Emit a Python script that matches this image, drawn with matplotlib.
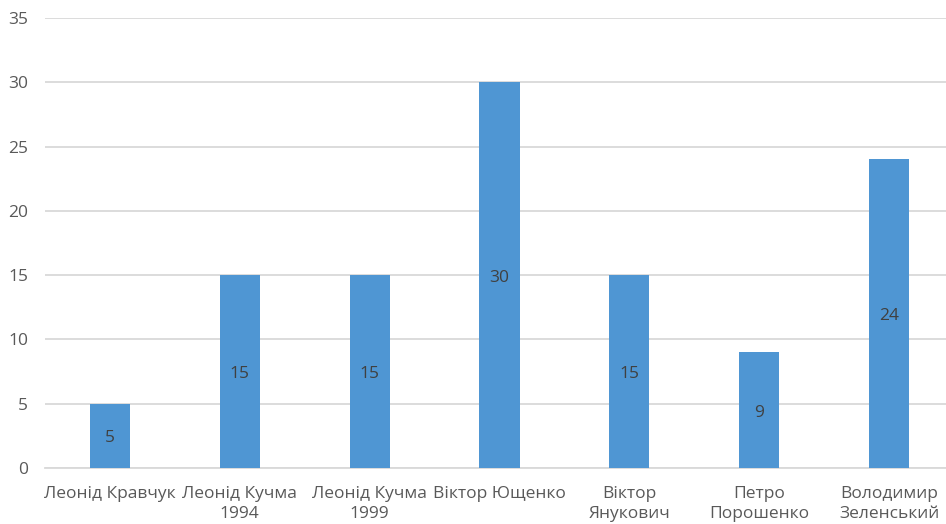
import matplotlib
matplotlib.use("Agg")
import matplotlib.pyplot as plt

categories = ["Леонід Кравчук", "Леонід Кучма\n1994", "Леонід Кучма\n1999",
              "Віктор Ющенко", "Віктор\nЯнукович", "Петро\nПорошенко",
              "Володимир\nЗеленський"]
values = [5, 15, 15, 30, 15, 9, 24]
y_ticks = [0, 5, 10, 15, 20, 25, 30, 35]

plt.rcParams["font.family"] = ["Open Sans", "DejaVu Sans"]

W, H = 946, 524
fig = plt.figure(figsize=(W / 100, H / 100), dpi=100)
ax = fig.add_axes([45 / W, 56 / H, 909 / W, 450 / H])

bar_color = "#4F96D3"
grid_color = "#D9D9D9"
text_color = "#595959"

x = list(range(len(categories)))
bars = ax.bar(x, values, width=0.31, color=bar_color, zorder=3)
for xi, v in zip(x, values):
    ax.text(xi, v / 2 - 0.2, str(v), ha="center", va="center",
            fontsize=12.5, color="#404040", zorder=4)

ax.set_xlim(-0.5, len(categories) - 0.5)
ax.set_ylim(0, 35)
ax.set_yticks(y_ticks)
ax.set_yticklabels([str(t) for t in y_ticks])
ax.set_xticks(x)
ax.set_xticklabels(categories, linespacing=1.35)

ax.yaxis.grid(True, color=grid_color, linewidth=1.3, zorder=0)
ax.set_axisbelow(True)
for side in ["top", "right", "left"]:
    ax.spines[side].set_visible(False)
ax.spines["bottom"].set_color(grid_color)
ax.spines["bottom"].set_linewidth(1.3)

ax.tick_params(axis="both", length=0, colors=text_color, labelsize=12.5)
ax.tick_params(axis="y", pad=12)
ax.tick_params(axis="x", pad=13)

fig.savefig("out.png", dpi=100)
